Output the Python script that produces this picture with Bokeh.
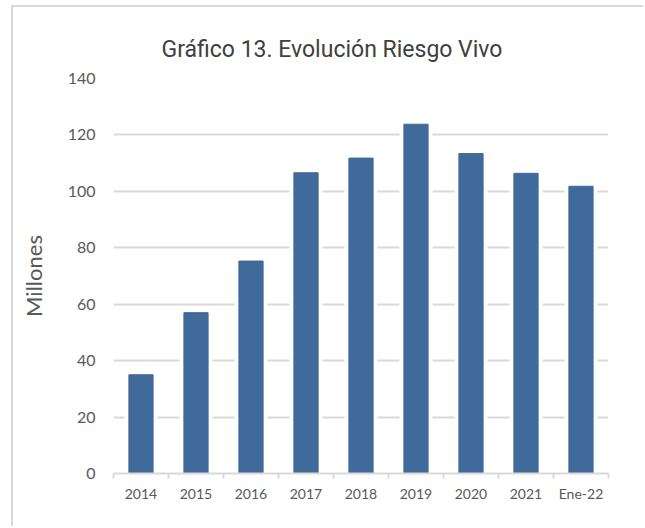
from bokeh.plotting import figure
from bokeh.models import FixedTicker, Range1d
from bokeh.embed import file_html
from bokeh.resources import INLINE

categories = ["2014", "2015", "2016", "2017", "2018", "2019", "2020", "2021", "Ene-22"]
values = [35.0, 57.0, 75.3, 106.6, 111.8, 123.8, 113.4, 106.4, 101.8]
y_ticks = [0, 20, 40, 60, 80, 100, 120, 140]

xs = list(range(len(categories)))

p = figure(width=632, height=521, output_backend="svg", toolbar_location=None,
           x_range=Range1d(-0.5, len(categories) - 0.5), y_range=Range1d(0, 140),
           min_border_left=100, min_border_right=37, min_border_top=71, min_border_bottom=55)
p.styles = {"margin-top": "5px", "margin-left": "11px",
            "border-top": "2px solid #d9d9d9", "border-left": "2px solid #d9d9d9"}
p.outline_line_color = None
p.background_fill_color = "white"
p.border_fill_color = "white"

p.title.text = "Gráfico 13. Evolución Riesgo Vivo"
p.title.align = "left"
p.title.offset = 48
p.title.text_font = "Roboto"
p.title.text_font_style = "normal"
p.title.text_font_size = "23px"
p.title.text_color = "#404040"
p.title.standoff = 32

p.vbar(x=xs, top=values, width=0.58, color="white")
p.vbar(x=xs, top=values, width=0.44, color="#406A9A")

p.xaxis.ticker = FixedTicker(ticks=xs, minor_ticks=[i - 0.5 for i in range(len(categories) + 1)])
p.xaxis.major_label_overrides = {i: c for i, c in enumerate(categories)}
p.xaxis.major_tick_line_color = None
p.xaxis.minor_tick_line_color = "#d9d9d9"
p.xaxis.minor_tick_line_width = 2
p.xaxis.minor_tick_out = 5
p.xaxis.minor_tick_in = 0
p.xaxis.axis_line_color = "#d9d9d9"
p.xaxis.axis_line_width = 2
p.xaxis.major_label_text_font = "Lato"
p.xaxis.major_label_text_font_size = "14px"
p.xaxis.major_label_text_color = "#595959"
p.xaxis.major_label_standoff = 5

p.yaxis.ticker = FixedTicker(ticks=y_ticks)
p.yaxis.axis_line_color = None
p.yaxis.major_tick_line_color = None
p.yaxis.minor_tick_line_color = None
p.yaxis.major_label_text_font = "Lato"
p.yaxis.major_label_text_font_size = "16px"
p.yaxis.major_label_text_color = "#595959"
p.yaxis.major_label_standoff = 12
p.yaxis.axis_label = "Millones"
p.yaxis.axis_label_text_font = "Lato"
p.yaxis.axis_label_text_font_style = "normal"
p.yaxis.axis_label_text_font_size = "22px"
p.yaxis.axis_label_text_color = "#595959"
p.yaxis.axis_label_standoff = 18

p.xgrid.grid_line_color = None
p.ygrid.grid_line_color = "#d9d9d9"
p.ygrid.grid_line_width = 2

open("out.html", "w").write(file_html(p, INLINE))
